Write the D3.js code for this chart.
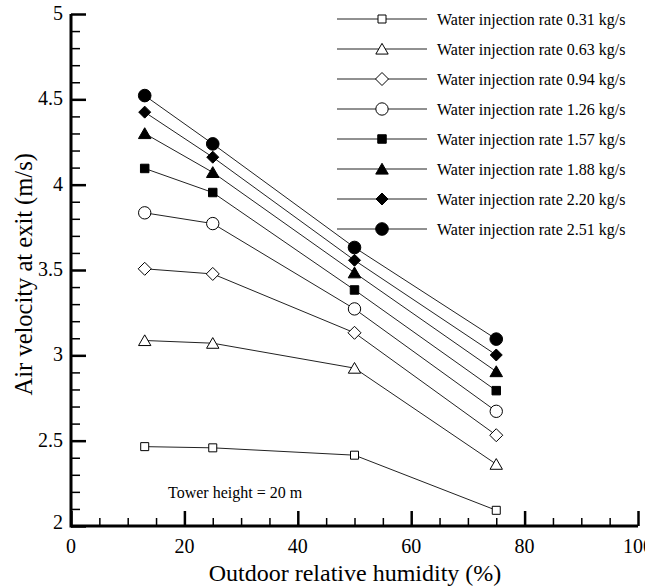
<!DOCTYPE html>
<html><head><meta charset="utf-8">
<script src="https://cdn.jsdelivr.net/npm/d3@7/dist/d3.min.js"></script>
<style>body{margin:0;background:#fff}svg{display:block}</style>
</head><body>
<svg id="c" width="645" height="586" font-family="'Liberation Serif', 'Times New Roman', Times, serif"></svg>
<script>
const humidity = [13, 25, 50, 75];
const rates = ["0.31", "0.63", "0.94", "1.26", "1.57", "1.88", "2.20", "2.51"];
const v031 = [2.465, 2.458, 2.415, 2.092];
const v063 = [3.087, 3.071, 2.925, 2.362];
const v094 = [3.507, 3.477, 3.132, 2.532];
const v126 = [3.835, 3.772, 3.272, 2.672];
const v157 = [4.095, 3.954, 3.383, 2.793];
const v188 = [4.300, 4.072, 3.484, 2.905];
const v220 = [4.425, 4.161, 3.557, 3.002];
const v251 = [4.522, 4.239, 3.632, 3.095];
const seriesValues = [v031, v063, v094, v126, v157, v188, v220, v251];
const markerTypes = ["square", "triangle", "diamond", "circle", "square", "triangle", "diamond", "circle"];
const markerFilled = [false, false, false, false, true, true, true, true];
const xTicks = [0, 20, 40, 60, 80, 100];
const yTicks = [2, 2.5, 3, 3.5, 4, 4.5, 5];

const svg = d3.select("#c");
const x = d3.scaleLinear().domain([0, 100]).range([71, 638]);
const y = d3.scaleLinear().domain([2, 5]).range([526, 14]);

function symPath(type, filled) {
  if (type === "diamond") {
    const r = filled ? 6 : 6.5;
    return `M0,${-r}L${r},0L0,${r}L${-r},0Z`;
  }
  const size = {
    square: filled ? 72 : 64,
    triangle: filled ? 68 : 66,
    circle: filled ? 125 : 120
  }[type];
  const t = {square: d3.symbolSquare, triangle: d3.symbolTriangle, circle: d3.symbolCircle}[type];
  return d3.symbol().type(t).size(size)();
}

// lines
const line = d3.line().x((d, i) => x(humidity[i])).y(d => y(d));
seriesValues.forEach((vals, k) => {
  svg.append("path").attr("d", line(vals)).attr("fill", "none").attr("stroke", "#222").attr("stroke-width", 1);
});
// markers
seriesValues.forEach((vals, k) => {
  const dy = markerTypes[k] === "triangle" ? 1.5 : 0;
  svg.selectAll(null).data(vals).enter().append("path")
    .attr("d", symPath(markerTypes[k], markerFilled[k]))
    .attr("transform", (d, i) => `translate(${x(humidity[i])},${y(d) + dy})`)
    .attr("fill", markerFilled[k] ? "#000" : "#fff")
    .attr("stroke", "#000").attr("stroke-width", 1);
});

// axes
const xMinor = d3.range(0, 101, 5).filter(v => v % 20 !== 0);
const yMinor = d3.range(20, 51, 1).map(v => v / 10).filter(v => Math.round(v * 10) % 5 !== 0);
const ax = svg.append("g");
ax.append("g").attr("transform", `translate(0,${y(2)})`)
  .call(d3.axisTop(x).tickValues(xMinor).tickSize(8).tickFormat(""))
  .call(g => { g.select(".domain").remove(); g.selectAll("line").attr("stroke-width", 1.5); });
ax.append("g").attr("transform", `translate(0,${y(2)})`)
  .call(d3.axisTop(x).tickValues(xTicks).tickSize(15).tickFormat(""))
  .call(g => { g.select(".domain").remove(); g.selectAll("line").attr("stroke-width", 2.5); });
ax.append("g").attr("transform", `translate(${x(0)},0)`)
  .call(d3.axisRight(y).tickValues(yMinor).tickSize(9).tickFormat(""))
  .call(g => { g.select(".domain").remove(); g.selectAll("line").attr("stroke-width", 1.5); });
ax.append("g").attr("transform", `translate(${x(0)},0)`)
  .call(d3.axisRight(y).tickValues(yTicks).tickSize(15).tickFormat(""))
  .call(g => { g.select(".domain").remove(); g.selectAll("line").attr("stroke-width", 2.5); });
ax.append("line").attr("x1", x(0)).attr("x2", x(100)).attr("y1", y(2)).attr("y2", y(2)).attr("stroke", "#000").attr("stroke-width", 3);
ax.append("line").attr("x1", x(0)).attr("x2", x(0)).attr("y1", y(2) + 1.5).attr("y2", y(5)).attr("stroke", "#000").attr("stroke-width", 3);

// tick labels
svg.selectAll(null).data(xTicks).enter().append("text")
  .attr("x", d => x(d)).attr("y", 553).attr("text-anchor", "middle").attr("font-size", 20)
  .text(d => d);
svg.selectAll(null).data(yTicks).enter().append("text")
  .attr("x", 63).attr("y", d => y(d) + (d === 2 ? 3 : 6)).attr("text-anchor", "end").attr("font-size", 20)
  .text(d => d);

// axis titles
svg.append("text").attr("x", 355).attr("y", 581).attr("text-anchor", "middle").attr("font-size", 24)
  .text("Outdoor relative humidity (%)");
svg.append("text").attr("transform", `translate(32,${y(3.475)}) rotate(-90)`).attr("text-anchor", "middle").attr("font-size", 24.5)
  .text("Air velocity at exit (m/s)");

svg.append("text").attr("x", 168).attr("y", 498).attr("font-size", 16).text("Tower height = 20 m");

// legend
rates.forEach((r, k) => {
  const ly = 19 + k * 30;
  svg.append("line").attr("x1", 337).attr("x2", 427).attr("y1", ly).attr("y2", ly).attr("stroke", "#222").attr("stroke-width", 1);
  svg.append("path").attr("d", symPath(markerTypes[k], markerFilled[k]))
    .attr("transform", `translate(382,${ly + (markerTypes[k] === "triangle" ? 1.5 : 0)})`)
    .attr("fill", markerFilled[k] ? "#000" : "#fff").attr("stroke", "#000").attr("stroke-width", 1);
  svg.append("text").attr("x", 437).attr("y", ly + 6).attr("font-size", 16).text(`Water injection rate ${r} kg/s`);
});
</script>
</body></html>
